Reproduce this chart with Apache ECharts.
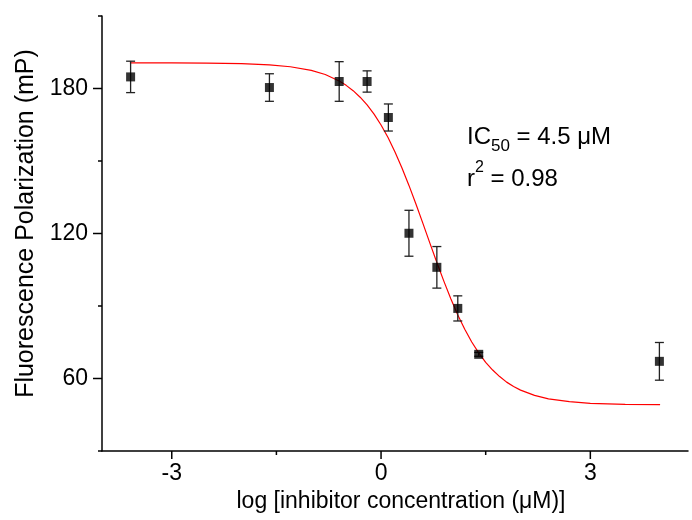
<!DOCTYPE html>
<html><head><meta charset="utf-8">
<script src="https://cdn.jsdelivr.net/npm/echarts@6/dist/echarts.min.js"></script>
<style>html,body{margin:0;padding:0;background:#fff}#c{width:692px;height:520px}</style>
</head><body><div id="c"></div>
<script>
// measured data (log µM, mP)
const logConc = [-3.59, -1.60, -0.60, -0.20, 0.105, 0.40, 0.80, 1.10, 1.40, 3.99];
const fpMean  = [184.8, 180.4, 182.9, 182.9, 168.0, 120.1, 106.0, 89.0, 70.0, 67.1];
const fpErr   = [6.5, 5.7, 8.2, 4.4, 5.6, 9.5, 8.6, 5.2, 0.8, 7.8];
// fitted curve
const fitX = [-3.6, -3, -2.5, -2, -1.6, -1.3, -1.0, -0.8, -0.6, -0.5, -0.4, -0.3, -0.2, -0.1, 0, 0.1, 0.2, 0.3, 0.4, 0.5, 0.6, 0.7, 0.8, 0.9, 1.0, 1.1, 1.2, 1.3, 1.4, 1.5, 1.6, 1.7, 1.8, 1.9, 2.0, 2.2, 2.4, 2.7, 3.0, 3.5, 4.0];
const fitY = [190.6, 190.6, 190.5, 190.3, 189.8, 189.0, 187.5, 185.8, 183.1, 181.3, 179.1, 176.4, 173.2, 169.4, 164.9, 159.7, 153.7, 147.1, 139.9, 132.2, 124.2, 116.0, 108.0, 100.3, 93.0, 86.3, 80.4, 75.1, 70.6, 66.7, 63.5, 60.8, 58.5, 56.7, 55.2, 53.0, 51.6, 50.4, 49.7, 49.3, 49.2];
// ticks
const xMajorTicks = [-3, 0, 3];
const xTickLabels = ['-3', '0', '3'];
const xMinorTicks = [-1.5, 1.5];
const yMajorTicks = [60, 120, 180];
const yTickLabels = ['60', '120', '180'];
const yMinorTicks = [30, 90, 150, 210];
const xMin = -4, xMax = 4.4, yMin = 30, yMax = 210;

const FONT = '"Liberation Sans", Arial, Helvetica, sans-serif';
const chart = echarts.init(document.getElementById('c'), null, {renderer: 'canvas'});

function labelFor(ticks, labels) {
  return function (v) {
    for (let i = 0; i < ticks.length; i++) if (Math.abs(v - ticks[i]) < 1e-6) return labels[i];
    return '';
  };
}

const tickData = []
  .concat(xMajorTicks.map(v => [0, v, 8]))
  .concat(xMinorTicks.map(v => [0, v, 4]))
  .concat(yMajorTicks.map(v => [1, v, 9]))
  .concat(yMinorTicks.map(v => [1, v, 4]));

const errData = logConc.map((x, i) => [x, fpMean[i] - fpErr[i], fpMean[i] + fpErr[i]]);

const option = {
  animation: false,
  backgroundColor: '#fff',
  grid: {left: 102, top: 16, width: 586, height: 435, containLabel: false},
  xAxis: {
    type: 'value', min: xMin, max: xMax, interval: 1,
    axisLine: {show: true, onZero: false, lineStyle: {color: '#000', width: 1.5}},
    axisTick: {show: false},
    splitLine: {show: false},
    axisLabel: {formatter: labelFor(xMajorTicks, xTickLabels), color: '#000', fontSize: 23, fontFamily: FONT, margin: 11, showMinLabel: true, showMaxLabel: true},
    name: 'log [inhibitor concentration (\u03bcM)]',
    nameLocation: 'middle', nameGap: 33,
    nameTextStyle: {color: '#000', fontSize: 23, fontFamily: FONT, padding: [0, 0, 0, 12]}
  },
  yAxis: {
    type: 'value', min: yMin, max: yMax, interval: 30,
    axisLine: {show: true, onZero: false, lineStyle: {color: '#000', width: 1.5}},
    axisTick: {show: false},
    splitLine: {show: false},
    axisLabel: {formatter: labelFor(yMajorTicks, yTickLabels), color: '#000', fontSize: 23, fontFamily: FONT, margin: 14},
    name: 'Fluorescence Polarization (mP)',
    nameLocation: 'middle', nameGap: 63,
    nameTextStyle: {color: '#000', fontSize: 25, fontFamily: FONT, padding: [0, 0, 0, 20]}
  },
  series: [
    {
      type: 'custom', name: 'ticks', clip: false, silent: true, z: 5,
      data: tickData,
      renderItem: function (params, api) {
        const kind = api.value(0), v = api.value(1), len = api.value(2);
        let x1, y1, x2, y2;
        if (kind === 0) {
          const p = api.coord([v, yMin]);
          x1 = p[0]; y1 = p[1]; x2 = p[0]; y2 = p[1] + len;
        } else {
          const p = api.coord([xMin, v]);
          x1 = p[0] - len; y1 = p[1]; x2 = p[0]; y2 = p[1];
        }
        return {type: 'line', shape: {x1, y1, x2, y2}, style: {stroke: '#000', lineWidth: 1.5}};
      }
    },
    {
      type: 'line', name: 'fit', data: fitX.map((x, i) => [x, fitY[i]]),
      showSymbol: false, symbol: 'none', smooth: false,
      lineStyle: {color: '#ff0000', width: 1.2}, z: 2, silent: true
    },
    {
      type: 'custom', name: 'error', clip: false, silent: true, z: 3,
      data: errData,
      renderItem: function (params, api) {
        const x = api.value(0);
        const lo = api.coord([x, api.value(1)]);
        const hi = api.coord([x, api.value(2)]);
        const w = 4.5;
        const st = {stroke: '#222', lineWidth: 1.3};
        return {type: 'group', children: [
          {type: 'line', shape: {x1: hi[0], y1: hi[1], x2: lo[0], y2: lo[1]}, style: st},
          {type: 'line', shape: {x1: hi[0] - w, y1: hi[1], x2: hi[0] + w, y2: hi[1]}, style: st},
          {type: 'line', shape: {x1: lo[0] - w, y1: lo[1], x2: lo[0] + w, y2: lo[1]}, style: st}
        ]};
      }
    },
    {
      type: 'scatter', name: 'data', data: logConc.map((x, i) => [x, fpMean[i]]),
      symbol: 'rect', symbolSize: 9, itemStyle: {color: '#000'}, z: 4, silent: true
    }
  ],
  graphic: [
    {
      type: 'text', left: 467, top: 125, silent: true,
      style: {
        text: '{m|IC}{s|50}{m| = 4.5 \u03bcM}',
        fill: '#000',
        rich: {
          m: {fontSize: 24, lineHeight: 36, fontFamily: FONT, fill: '#000'},
          s: {fontSize: 17, lineHeight: 17, fontFamily: FONT, fill: '#000', verticalAlign: 'bottom'}
        }
      }
    },
    {
      type: 'text', left: 467, top: 160, silent: true,
      style: {
        text: '{m|r}{p|2}{m| = 0.98}',
        fill: '#000',
        rich: {
          m: {fontSize: 24, lineHeight: 39, fontFamily: FONT, fill: '#000'},
          p: {fontSize: 16, lineHeight: 16, fontFamily: FONT, fill: '#000', verticalAlign: 'top'}
        }
      }
    }
  ]
};
chart.setOption(option);
</script>
</body></html>
